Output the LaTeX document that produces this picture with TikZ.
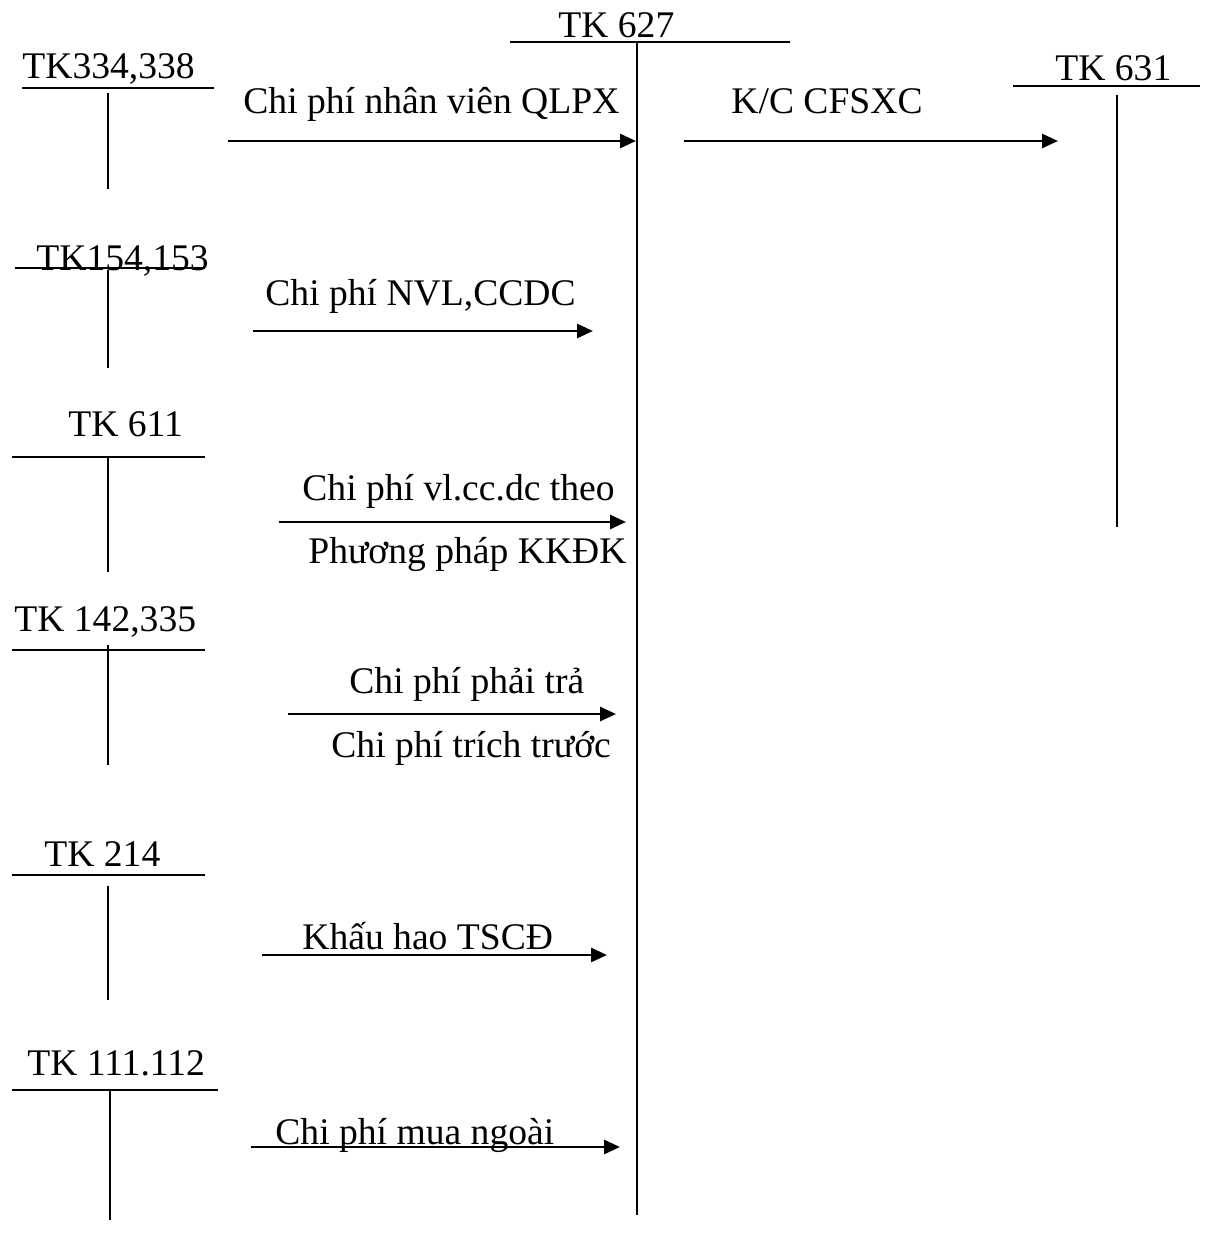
\documentclass[tikz,border=0pt]{standalone}
\usepackage{fontspec}
\setmainfont{Liberation Serif}
\usetikzlibrary{arrows.meta}

\begin{document}
\begin{tikzpicture}[x=0.5pt, y=-0.5pt,
    txt/.style={font=\fontsize{18.8}{22}\selectfont, anchor=base west, inner sep=0pt},
    tl/.style={line width=1pt},
    fl/.style={-{Triangle[length=8pt,width=7pt]}, line width=1.4pt},
  ]
    \useasboundingbox (0,0) rectangle (1215,1249);

    % central account and transfer account
    \node[txt] (tk627) at (558,37) {TK 627};
    \draw[tl] (510,42) -- (790,42);
    \draw[tl] (637,42) -- (637,1215);
    \node[txt] (tk631) at (1055,80) {TK 631};
    \draw[tl] (1013,86) -- (1200,86);
    \draw[tl] (1117,95) -- (1117,527);

    % T accounts on the left -- line y, vertical stroke
    \node[txt] (tk334) at (22,78) {TK334,338};
    \draw[tl] (22,88) -- (214,88);
    \draw[tl] (108,93) -- (108,189);
    \node[txt] (tk154) at (36,270) {TK154,153};
    \draw[tl] (15,268) -- (205,268);
    \draw[tl] (108,270) -- (108,368);
    \node[txt] (tk611) at (68,436) {TK 611};
    \draw[tl] (12,457) -- (205,457);
    \draw[tl] (108,457) -- (108,572);
    \node[txt] (tk142) at (14,631) {TK 142,335};
    \draw[tl] (12,650) -- (205,650);
    \draw[tl] (108,645) -- (108,765);
    \node[txt] (tk214) at (44,866) {TK 214};
    \draw[tl] (12,875) -- (205,875);
    \draw[tl] (108,886) -- (108,1000);
    \node[txt] (tk111) at (27,1075) {TK 111.112};
    \draw[tl] (12,1090) -- (218,1090);
    \draw[tl] (110,1090) -- (110,1220);

    % arrow ends
    \coordinate (a1) at (228,141);  \coordinate (b1) at (636,141);
    \coordinate (a2) at (684,141);  \coordinate (b2) at (1058,141);
    \coordinate (a3) at (253,331);  \coordinate (b3) at (593,331);
    \coordinate (a4) at (279,522);  \coordinate (b4) at (626,522);
    \coordinate (a5) at (288,714);  \coordinate (b5) at (616,714);
    \coordinate (a6) at (262,955);  \coordinate (b6) at (607,955);
    \coordinate (a7) at (251,1147); \coordinate (b7) at (620,1147);
    \foreach \i in {1,...,7} \draw[fl] (a\i) -- (b\i);

    % entry labels
    \node[txt] (l1) at (243,113) {Chi phí nhân viên QLPX};
    \node[txt] (l2) at (731,113) {K/C CFSXC};
    \node[txt] (l3) at (265,305) {Chi phí NVL,CCDC};
    \node[txt] (l4) at (302,500) {Chi phí vl.cc.dc theo};
    \node[txt] (l4b) at (308,563) {Phương pháp KKĐK};
    \node[txt] (l5) at (349,693) {Chi phí phải trả};
    \node[txt] (l5b) at (331,757) {Chi phí trích trước};
    \node[txt] (l6) at (302,949) {Khấu hao TSCĐ};
    \node[txt] (l7) at (275,1144) {Chi phí mua ngoài};
  \end{tikzpicture}
\end{document}
